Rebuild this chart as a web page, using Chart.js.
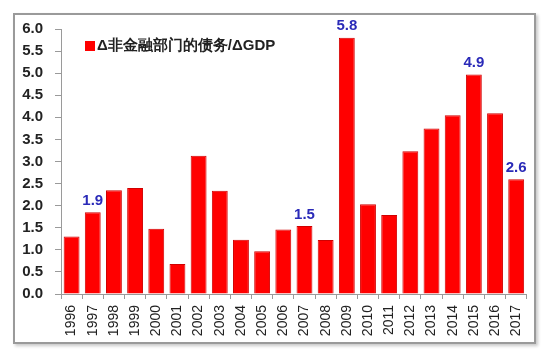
<!DOCTYPE html>
<html>
<head>
<meta charset="utf-8">
<script src="https://cdn.jsdelivr.net/npm/chart.js@4/dist/chart.umd.min.js"></script>
<style>
    body { margin: 0; background: #fff; width: 550px; height: 359px; position: relative; }
    #frame {
        position: absolute; left: 13px; top: 13px; width: 519px; height: 327px;
        border: 2px solid #9a9a9a; box-shadow: 2px 2px 3px #c8c8c8; background: #fff;
    }
    #wrap { position: absolute; left: 0; top: -7px; width: 524px; height: 335px; }
</style>
</head>
<body>
<div id="frame"><div id="wrap"><canvas id="debtChart"></canvas></div></div>
<script>
// 數據
const years = ['1996', '1997', '1998', '1999', '2000', '2001', '2002', '2003', '2004', '2005', '2006',
    '2007', '2008', '2009', '2010', '2011', '2012', '2013', '2014', '2015', '2016', '2017'];
const ratios = [1.3, 1.85, 2.35, 2.4, 1.48, 0.68, 3.13, 2.34, 1.23, 0.97, 1.46,
    1.54, 1.22, 5.8, 2.03, 1.79, 3.23, 3.75, 4.05, 4.97, 4.09, 2.6];
const valueLabels = [null, '1.9', null, null, null, null, null, null, null, null, null,
    '1.5', null, '5.8', null, null, null, null, null, '4.9', null, '2.6'];
const seriesName = 'Δ非金融部门的债务/ΔGDP';

const FONT = '"Liberation Sans", Arial, sans-serif';

// 柱頂數值標籤
const valueLabelPlugin = {
    id: 'valueLabels',
    afterDatasetsDraw(chart) {
        const ctx = chart.ctx;
        const meta = chart.getDatasetMeta(0);
        ctx.save();
        ctx.font = 'bold 15px ' + FONT;
        ctx.fillStyle = '#2a2ab8';
        ctx.textAlign = 'center';
        ctx.textBaseline = 'bottom';
        meta.data.forEach((bar, i) => {
            if (valueLabels[i]) ctx.fillText(valueLabels[i], bar.x, bar.y - 4);
        });
        ctx.restore();
    }
};

// 圖例（畫在繪圖區內左上）
const innerLegendPlugin = {
    id: 'innerLegend',
    afterDraw(chart) {
        const ctx = chart.ctx;
        const area = chart.chartArea;
        const x = area.left + 24;
        const y = area.top + 17;
        ctx.save();
        ctx.fillStyle = '#ff0000';
        ctx.fillRect(x, y - 5, 10, 10);
        ctx.font = 'bold 15px ' + FONT;
        ctx.fillStyle = '#222';
        ctx.textAlign = 'left';
        ctx.textBaseline = 'middle';
        ctx.fillText(seriesName, x + 12, y);
        ctx.restore();
    }
};

new Chart(document.getElementById('debtChart'), {
    type: 'bar',
    data: {
        labels: years,
        datasets: [{
            label: seriesName,
            data: ratios,
            backgroundColor: '#ff0000',
            borderColor: '#d00000',
            borderWidth: 1,
            categoryPercentage: 1,
            barPercentage: 0.75
        }]
    },
    options: {
        responsive: true,
        maintainAspectRatio: false,
        animation: false,
        layout: { padding: { top: 0, right: 0, left: 0, bottom: 0 } },
        plugins: {
            legend: { display: false },
            tooltip: { enabled: false }
        },
        scales: {
            x: {
                grid: { display: true, drawOnChartArea: false, offset: true, tickLength: 5, color: '#9a9a9a' },
                border: { color: '#9a9a9a' },
                ticks: {
                    color: '#222',
                    font: { family: FONT, size: 14 },
                    minRotation: 90,
                    maxRotation: 90,
                    autoSkip: false,
                    padding: 6
                },
                afterFit: scale => { scale.height = 49; }
            },
            y: {
                min: 0,
                max: 6,
                grid: { display: true, drawOnChartArea: false, tickLength: 6, color: '#9a9a9a' },
                border: { color: '#9a9a9a' },
                ticks: {
                    stepSize: 0.5,
                    color: '#222',
                    font: { family: FONT, size: 15, weight: 'bold' },
                    padding: 12,
                    callback: v => v.toFixed(1)
                },
                afterFit: scale => { scale.width = 46; }
            }
        }
    },
    plugins: [valueLabelPlugin, innerLegendPlugin]
});
</script>
</body>
</html>
